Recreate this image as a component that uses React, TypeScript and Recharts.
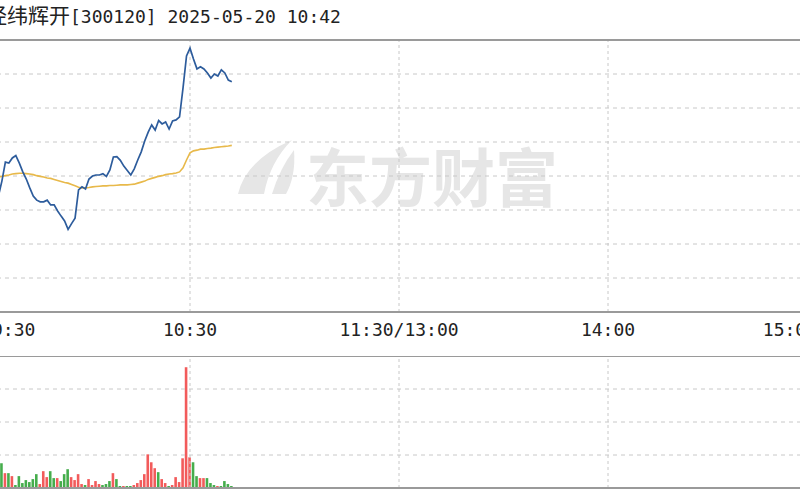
import React from 'react';
import { ComposedChart, Line, XAxis, YAxis, ReferenceLine, BarChart, Bar, Cell } from 'recharts';

// ---- data ----
const stockName = '经纬辉开';
const stockInfo = '[300120] 2025-05-20 10:42';
const watermarkText = '东方财富';

const timeTicks = [0, 60, 120, 180, 240];
const timeLabels = ['9:30', '10:30', '11:30/13:00', '14:00', '15:00'];
const verticalGridTimes = [60, 120, 180];
const priceGridLevels = [-3, -2, -1, 0, 1, 2, 3];
const priceDomain: [number, number] = [-4, 4];
const volumeGridLevels = [1000, 2000, 3000];
const volumeDomain: [number, number] = [0, 4000];

// price change (%) per minute from 9:30 to 10:42
const priceChange = [
  0.0, -0.47, -0.65, -0.59, -0.71, -0.59,
  -0.15, 0.41, 0.38, 0.53, 0.6, 0.38, 0.12, -0.09, -0.35, -0.59,
  -0.71, -0.76, -0.76, -0.71, -0.85, -0.85, -1.03, -1.18, -1.32, -1.57,
  -1.4, -1.24, -0.41, -0.32, -0.38, -0.09, 0.0, 0.03, 0.03, 0.07,
  -0.01, 0.18, 0.56, 0.57, 0.46, 0.29, 0.16, 0.03, 0.21, 0.47,
  0.71, 1.03, 1.29, 1.5, 1.35, 1.63, 1.53, 1.59, 1.38, 1.62,
  1.65, 1.74, 2.59, 3.53, 3.76, 3.44, 3.15, 3.21, 3.15, 3.03,
  2.88, 3.0, 2.94, 3.12, 3.03, 2.82, 2.77,
];

// average price change (%) per minute
const avgChange = [
  0.0, -0.03, -0.06, -0.06, -0.04, -0.03,
  -0.01, 0.01, 0.03, 0.06, 0.07, 0.08, 0.08, 0.07, 0.06, 0.04,
  0.01, -0.01, -0.03, -0.06, -0.07, -0.1, -0.13, -0.16, -0.19, -0.21,
  -0.25, -0.29, -0.33, -0.35, -0.35, -0.34, -0.32, -0.31, -0.3, -0.29,
  -0.29, -0.28, -0.28, -0.27, -0.26, -0.26, -0.26, -0.25, -0.24, -0.21,
  -0.18, -0.15, -0.1, -0.07, -0.04, -0.01, 0.01, 0.04, 0.06, 0.07,
  0.09, 0.12, 0.24, 0.47, 0.68, 0.74, 0.76, 0.79, 0.79, 0.81,
  0.82, 0.84, 0.85, 0.86, 0.87, 0.88, 0.9,
];

// volume (lots) per minute
const volume = [
  1200, 600, 750, 450, 540, 600,
  750, 450, 450, 360, 90, 360, 150, 240, 180, 270,
  420, 120, 510, 330, 510, 300, 300, 210, 420, 570,
  330, 240, 420, 120, 90, 270, 90, 210, 120, 90,
  120, 210, 450, 270, 60, 60, 60, 60, 90, 150,
  240, 420, 1020, 780, 600, 480, 270, 150, 60, 90,
  330, 180, 900, 3660, 930, 780, 360, 300, 300, 300,
  150, 90, 60, 60, 210, 120, 60,
];

// u = up (red), d = down (green)
const volumeDir = [
  'u', 'd', 'd', 'u', 'd', 'd',
  'd', 'u', 'd', 'u', 'd', 'd', 'd', 'd', 'd', 'd',
  'd', 'u', 'u', 'u', 'd', 'd', 'u', 'd', 'd', 'd',
  'u', 'u', 'u', 'u', 'd', 'u', 'u', 'u', 'u', 'd',
  'd', 'd', 'u', 'd', 'd', 'u', 'd', 'd', 'u', 'u',
  'u', 'u', 'u', 'u', 'u', 'd', 'u', 'u', 'd', 'u',
  'u', 'u', 'u', 'u', 'u', 'd', 'd', 'u', 'u', 'd',
  'd', 'd', 'u', 'd', 'd', 'd', 'd',
];

// ---- styles ----
const RED = '#f25b5b';
const GREEN = '#45ad4c';
const PRICE_COLOR = '#2d5c9c';
const AVG_COLOR = '#e8b94a';
const GRID = '#c8c8c8';
const BORDER = '#9a9a9a';

const priceData = priceChange.map((p, i) => ({ m: i, price: p, avg: avgChange[i] }));
const volumeData = volume.map((v, i) => ({ m: i, vol: v, dir: volumeDir[i] }));

const TimeTick = (props: any) => {
  const { x, payload } = props;
  const i = timeTicks.indexOf(payload.value);
  let anchor: 'start' | 'middle' | 'end' = 'middle';
  let dx = 0;
  if (i === 0) {
    anchor = 'start';
    dx = 11;
  }
  if (i === timeTicks.length - 1) anchor = 'end';
  return (
    <text
      x={x + dx}
      y={336}
      textAnchor={anchor}
      fontFamily="DejaVu Sans Mono"
      fontSize={18}
      fill="#222"
    >
      {timeLabels[i]}
    </text>
  );
};

export default function App() {
  return (
    <div style={{ position: 'absolute', left: 0, top: 0, width: 800, height: 500, overflow: 'hidden', background: '#fff' }}>
      {/* watermark + title */}
      <svg width={800} height={500} style={{ position: 'absolute', left: 0, top: 0 }}>
        <g fill="#e6e6e6">
          <path d="M238 194 Q246 160 292 140 Q270 162 264 194 Z" />
          <path d="M272 194 Q280 168 294 150 Q296 176 286 194 Z" />
          <text x={306} y={201} fontFamily="Noto Sans CJK SC" fontWeight={700} fontSize={63}>
            {watermarkText}
          </text>
        </g>
        <text x={-14} y={23} fill="#222">
          <tspan fontFamily="Noto Sans CJK SC" fontSize={21}>{stockName}</tspan>
          <tspan fontFamily="DejaVu Sans Mono" fontSize={18}>{stockInfo}</tspan>
        </text>
      </svg>

      {/* price panel */}
      <div style={{ position: 'absolute', left: -60, top: 0 }}>
        <ComposedChart width={900} height={345} data={priceData} margin={{ top: 40, right: 23, bottom: 0, left: 41 }}>
          <XAxis
            dataKey="m"
            type="number"
            domain={[0, 240]}
            ticks={timeTicks}
            height={33}
            axisLine={false}
            tickLine={false}
            tick={<TimeTick />}
            interval={0}
          />
          <YAxis type="number" domain={priceDomain} hide />
          {priceGridLevels.map((v) => (
            <ReferenceLine key={'h' + v} y={v} stroke={GRID} strokeDasharray="4 4" />
          ))}
          {verticalGridTimes.map((t) => (
            <ReferenceLine key={'v' + t} x={t} stroke={GRID} strokeDasharray="3 3" />
          ))}
          <ReferenceLine y={priceDomain[1]} stroke={BORDER} strokeWidth={2} />
          <ReferenceLine y={priceDomain[0]} stroke={BORDER} strokeWidth={2} />
          <Line dataKey="avg" type="linear" stroke={AVG_COLOR} strokeWidth={1.6} dot={false} isAnimationActive={false} />
          <Line dataKey="price" type="linear" stroke={PRICE_COLOR} strokeWidth={1.7} dot={false} isAnimationActive={false} />
        </ComposedChart>
      </div>

      {/* volume panel */}
      <div style={{ position: 'absolute', left: -60, top: 356 }}>
        <BarChart width={900} height={140} data={volumeData} margin={{ top: 0, right: 23, bottom: 8, left: 41 }}>
          <XAxis dataKey="m" type="number" domain={[0, 240]} hide />
          <YAxis type="number" domain={volumeDomain} hide />
          {volumeGridLevels.map((v) => (
            <ReferenceLine key={'vh' + v} y={v} stroke={GRID} strokeDasharray="4 4" />
          ))}
          {verticalGridTimes.map((t) => (
            <ReferenceLine key={'vv' + t} x={t} stroke={GRID} strokeDasharray="3 3" />
          ))}
          <ReferenceLine y={volumeDomain[1]} stroke={BORDER} strokeWidth={2} />
          <Bar dataKey="vol" barSize={2.6} isAnimationActive={false}>
            {volumeData.map((d, i) => (
              <Cell key={i} fill={d.dir === 'u' ? RED : GREEN} />
            ))}
          </Bar>
          <ReferenceLine y={volumeDomain[0]} stroke={BORDER} strokeWidth={2} />
        </BarChart>
      </div>
    </div>
  );
}
